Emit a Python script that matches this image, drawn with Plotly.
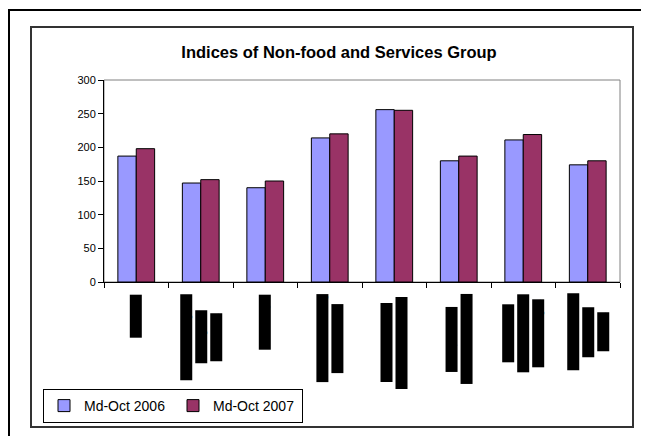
import plotly.graph_objects as go

# ---- data ----
label_lines = [
    ["Footwear"],
    ["Cloth, Clothing and", "Sewing and", "Alterations"],
    ["Fuel & Light"],
    ["Education, Reading", "and Recreation"],
    ["Medical Care and", "Personal Care Items"],
    ["Transportation", "and Communication"],
    ["Tobacco and", "Related Products", "and Beverages"],
    ["Other Household", "Goods and", "Services"],
]
categories = [" ".join(l) for l in label_lines]
v2006 = [187, 147, 140, 214, 256, 180, 211, 174]
v2007 = [198, 152, 150, 220, 255, 187, 219, 180]
series_names = ["Md-Oct 2006", "Md-Oct 2007"]
y_ticks = [0, 50, 100, 150, 200, 250, 300]

# ---- layout geometry ----
W, H = 649, 436
OFF = 8  # page body margin offset (screen px -> figure px)
PX0, PX1, PY0, PY1 = 104, 620, 80, 282
L_, R_, T_ = PX0 - OFF, W - (PX1 - OFF), PY0 - OFF
B_ = H - (PY1 - OFF)
PW = PX1 - PX0
PH = PY1 - PY0


def xp(sx):
    return (sx - PX0) / PW


def yp(sy):
    return (PY1 - sy) / PH


def est_width(s, size=10):
    w = 0
    for ch in s:
        if ch in "il.,'|":
            w += 2.3
        elif ch in "tfrj -":
            w += 3.1
        elif ch in "mwMW":
            w += 8.3
        elif ch.isupper():
            w += 7.0
        else:
            w += 5.6
    return w * size / 10


FONT = "Liberation Sans, Arial, sans-serif"

fig = go.Figure()
fig.add_trace(go.Bar(x=categories, y=v2006, name=series_names[0],
                     marker=dict(color="#9999FF", line=dict(color="black", width=1))))
fig.add_trace(go.Bar(x=categories, y=v2007, name=series_names[1],
                     marker=dict(color="#993366", line=dict(color="black", width=1))))

shapes = [
    dict(type="rect", xref="paper", yref="paper", x0=0, x1=1, y0=0, y1=1,
         line=dict(color="#808080", width=1), layer="below"),
    dict(type="rect", xref="paper", yref="paper", x0=xp(31), x1=xp(633), y0=yp(27), y1=yp(427),
         line=dict(color="#333333", width=2)),
    dict(type="line", xref="paper", yref="paper", x0=xp(9), x1=xp(9), y0=yp(10), y1=yp(460),
         line=dict(color="black", width=2)),
    dict(type="line", xref="paper", yref="paper", x0=xp(8), x1=xp(680), y0=yp(10), y1=yp(10),
         line=dict(color="black", width=2)),
]

annotations = []
for i, lines in enumerate(label_lines):
    n = len(lines)
    Lmax = max(est_width(s) for s in lines)
    cy = 294 + Lmax / 2
    for j, s in enumerate(lines):
        annotations.append(dict(
            x=categories[i], xref="x", y=yp(cy), yref="paper",
            text=s, textangle=-90, showarrow=False,
            xanchor="center", yanchor="middle",
            xshift=(j - (n - 1) / 2) * 15,
            font=dict(family=FONT, size=10, color="black"),
            bgcolor="black", borderpad=0,
        ))

fig.update_layout(
    width=W, height=H,
    margin=dict(l=L_, r=R_, t=T_, b=B_, pad=0),
    paper_bgcolor="white", plot_bgcolor="white",
    font=dict(family=FONT, color="black"),
    title=dict(text="<b>Indices of Non-food and Services Group</b>",
               x=xp(339), xref="paper", xanchor="center",
               y=1 - (52 - OFF) / H, yref="container", yanchor="middle",
               font=dict(family=FONT, size=16.5, color="black")),
    barmode="group", bargap=0.43, bargroupgap=0,
    showlegend=True,
    legend=dict(orientation="h", x=xp(43), y=yp(389), xanchor="left", yanchor="top",
                bordercolor="black", borderwidth=1, bgcolor="white",
                font=dict(family=FONT, size=14, color="black"),
                itemwidth=30, entrywidth=84, entrywidthmode="pixels",
                traceorder="normal"),
    xaxis=dict(type="category", range=[-0.5, 7.5], showticklabels=False,
               showline=True, linecolor="black", linewidth=1,
               ticks="outside", tickson="boundaries", ticklen=5, tickcolor="black",
               showgrid=False, zeroline=False, fixedrange=True),
    yaxis=dict(range=[0, 300], tickvals=y_ticks, showline=True, linecolor="black", linewidth=1,
               ticks="outside", ticklen=5, tickcolor="black", showgrid=False, zeroline=False,
               tickfont=dict(family=FONT, size=11, color="black"), fixedrange=True),
    shapes=shapes,
    annotations=annotations,
)

fig.write_html("out.html")
